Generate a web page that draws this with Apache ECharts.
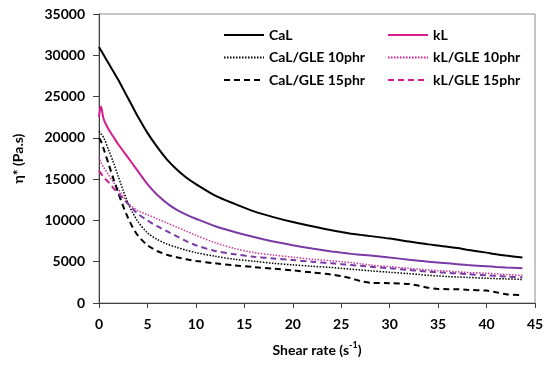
<!DOCTYPE html>
<html>
<head>
<meta charset="utf-8">
<script src="https://cdn.jsdelivr.net/npm/echarts@6/dist/echarts.min.js"></script>
<style>html,body{margin:0;padding:0;background:#fff}#c{width:550px;height:365px}</style>
</head>
<body>
<div id="c"></div>
<script>
var shearRate = [0,0.2,0.5,1,1.5,2,2.5,3,3.5,4,5,6,7,8,9,10,12,14,16,18,20,22,24,25,26,27,28,30,32,33,34,35,36,37,38,40,41,42,43.7];
var CaL =        [31000,30600,30000,29000,28000,27000,25900,24800,23700,22600,20600,18900,17400,16200,15200,14400,13000,12000,11100,10400,9800,9300,8800,8600,8400,8250,8100,7800,7450,7280,7100,6950,6800,6650,6450,6100,5900,5750,5500];
var kL =         [22500,23800,22200,21000,20100,19200,18400,17600,16800,16000,14400,13100,12100,11300,10700,10200,9300,8600,8000,7450,7000,6600,6250,6100,5950,5850,5750,5500,5250,5130,5000,4900,4800,4700,4600,4450,4370,4300,4200];
var CaL_GLE10 =  [20800,20500,20000,18500,17000,15300,13600,12100,10900,9900,8500,7700,7150,6750,6400,6100,5650,5300,5050,4800,4620,4450,4300,4200,4100,4000,3900,3720,3550,3450,3350,3280,3200,3150,3100,3000,2950,2920,2850];
var CaL_GLE15 =  [20000,19600,18600,16800,15000,13300,11700,10300,9100,8200,7000,6300,5850,5550,5300,5100,4800,4550,4350,4150,3950,3700,3450,3250,3000,2650,2450,2400,2300,2100,1850,1700,1680,1680,1600,1500,1300,1050,950];
var kL_GLE10 =   [17700,17000,16400,15500,14600,13800,12900,12100,11600,11200,10700,10200,9700,9200,8700,8200,7300,6600,6100,5800,5550,5300,5100,5000,4900,4750,4600,4400,4200,4100,4000,3920,3850,3780,3700,3600,3520,3450,3350];
var kL_GLE15 =   [16000,15700,15200,14600,13900,13300,12600,12000,11400,10800,10000,9300,8700,8100,7500,7000,6300,5900,5600,5400,5200,5000,4800,4700,4600,4500,4400,4200,4000,3900,3800,3720,3650,3580,3500,3350,3280,3200,3100];
var seriesNames = ['CaL','kL','CaL/GLE 10phr','kL/GLE 10phr','CaL/GLE 15phr','kL/GLE 15phr'];
var xTicks = [0,5,10,15,20,25,30,35,40,45];
var yTicks = [0,5000,10000,15000,20000,25000,30000,35000];

var MAG = '#d81b8f', PUR = '#7a3aa6';
function pairs(ys){ return shearRate.map(function(x,i){ return [x, ys[i]]; }); }
function grad(a, b){
  return {type:'linear', x:0, y:0, x2:1, y2:0, colorStops:[
    {offset:0, color:MAG},{offset:a, color:MAG},{offset:b, color:PUR},{offset:1, color:PUR}]};
}
var F = 'Lato, "Open Sans", sans-serif';
var chart = echarts.init(document.getElementById('c'), null, {renderer:'canvas'});
function mk(name, data, color, type, width){
  return {name:name, type:'line', data:pairs(data), symbol:'none', showSymbol:false, smooth:0.3,
    lineStyle:{color:color, type:type, width:width}, itemStyle:{color:color}, z: 3};
}
var legText = {fontFamily:F, fontWeight:'bold', fontSize:14, color:'#000'};
chart.setOption({
  animation:false,
  backgroundColor:'#fff',
  grid:{left:99, right:15, top:14, bottom:62, show:true, borderColor:'#8c8c8c', borderWidth:1},
  legend:[
    {left:218, top:23, orient:'vertical', itemWidth:40, itemHeight:14, itemGap:8.5,
     itemStyle:{opacity:0}, textStyle:legText,
     data:['CaL','CaL/GLE 10phr','CaL/GLE 15phr']},
    {left:382, top:23, orient:'vertical', itemWidth:40, itemHeight:14, itemGap:8.5,
     itemStyle:{opacity:0}, textStyle:legText,
     data:[{name:'kL', lineStyle:{color:MAG}},{name:'kL/GLE 10phr', lineStyle:{color:MAG}},{name:'kL/GLE 15phr', lineStyle:{color:MAG}}]}
  ],
  xAxis:{type:'value', min:xTicks[0], max:xTicks[xTicks.length-1], interval:xTicks[1]-xTicks[0],
    name:'{a|Shear rate (s}{b|-1}{a|)}', nameLocation:'middle', nameGap:38,
    nameTextStyle:{rich:{a:{fontFamily:F, fontWeight:'bold', fontSize:14, color:'#000', lineHeight:18},
                        b:{fontFamily:F, fontWeight:'bold', fontSize:9, color:'#000', verticalAlign:'top', lineHeight:12}}},
    axisLine:{lineStyle:{color:'#404040', width:1}},
    axisTick:{show:true, inside:false, length:5, lineStyle:{color:'#404040'}},
    axisLabel:{margin:14, fontFamily:F, fontWeight:'bold', fontSize:14, color:'#000'},
    splitLine:{show:false}},
  yAxis:{type:'value', min:yTicks[0], max:yTicks[yTicks.length-1], interval:yTicks[1]-yTicks[0],
    name:'η* (Pa.s)', nameLocation:'middle', nameGap:74, nameRotate:90,
    nameTextStyle:{fontFamily:F, fontWeight:'bold', fontSize:14, color:'#000'},
    axisLine:{show:true, lineStyle:{color:'#404040', width:1}},
    axisTick:{show:true, inside:false, length:6, lineStyle:{color:'#404040'}},
    axisLabel:{margin:14, fontFamily:F, fontWeight:'bold', fontSize:14, color:'#000',
      formatter:function(v){ return String(v); }},
    splitLine:{show:false}},
  series:[
    mk('CaL', CaL, '#000', 'solid', 2),
    mk('kL', kL, grad(0.08, 0.16), 'solid', 2),
    mk('CaL/GLE 10phr', CaL_GLE10, '#000', [1.5,1.5], 1.5),
    mk('kL/GLE 10phr', kL_GLE10, '#cc3b97', [1.5,1.5], 1.5),
    mk('CaL/GLE 15phr', CaL_GLE15, '#000', [6,4], 2),
    mk('kL/GLE 15phr', kL_GLE15, grad(0.02, 0.07), [6,4], 2)
  ]
});
</script>
</body>
</html>
